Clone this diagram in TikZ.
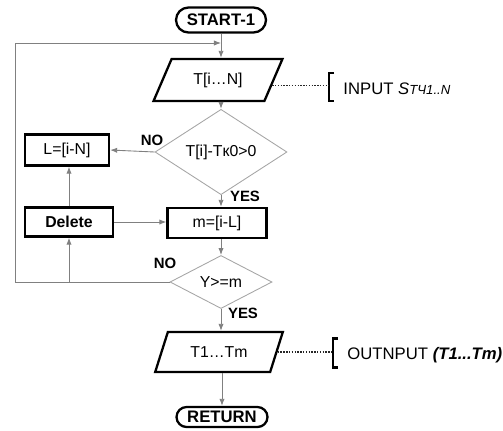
\documentclass[tikz,border=0pt]{standalone}
\usepackage{fontspec}
\setmainfont{Liberation Sans}
\usetikzlibrary{shapes.geometric,shapes.misc,arrows.meta}
\begin{document}
\begin{tikzpicture}[x=.02cm,y=-.02cm,line width=.5pt,
   term/.style={draw,shape=rounded rectangle,line width=1.3pt,inner sep=0pt,font=\fontsize{9.5}{11}\selectfont\bfseries},
   io/.style={draw,shape=trapezium,trapezium left angle=57,trapezium right angle=123,trapezium stretches=true,line width=1.3pt,inner sep=0pt,font=\fontsize{9}{11}\selectfont},
   proc/.style={draw,shape=rectangle,line width=1.3pt,inner sep=0pt,font=\fontsize{9}{11}\selectfont},
   dec/.style={draw=gray!70,shape=diamond,inner sep=0pt,font=\fontsize{9}{11}\selectfont},
   lbl/.style={font=\fontsize{8.5}{10}\selectfont\bfseries},
   note/.style={anchor=west,inner sep=0pt,font=\fontsize{9.5}{11}\selectfont},
   arr/.style={draw=gray,-{Latex[length=4pt,width=3pt]}},
   dots/.style={draw=black!85,dash pattern=on .8pt off .8pt,line width=.9pt},
   brk/.style={line width=1.7pt}]

      \useasboundingbox (0,0) rectangle (503,430);

      \path (221,20) node[term,minimum width=1.8cm,minimum height=.5cm] (start) {START-1};
      \path (218,80) node[io,minimum width=2.58cm,minimum height=.84cm] (inp) {T[i…N]};
      \path (221,152) node[dec,minimum width=2.64cm,minimum height=1.28cm] (test) {T[i]-Tк0>0};
      \path (67,150) node[proc,minimum width=1.68cm,minimum height=.62cm] (setl) {L=[i-N]};
      \path (69,222) node[proc,minimum width=1.76cm,minimum height=.58cm,font=\fontsize{9}{11}\selectfont\bfseries] (del) {Delete};
      \path (217,223) node[proc,minimum width=1.98cm,minimum height=.6cm] (setm) {m=[i-L]};
      \path (221,282) node[dec,minimum width=2.04cm,minimum height=.92cm] (cmp) {Y>=m};
      \path (219,352) node[io,minimum width=2.56cm,minimum height=.8cm] (outp) {T1…Tm};
      \path (222,417) node[term,minimum width=1.82cm,minimum height=.4cm] (ret) {RETURN};

      % branch labels
      \path (152,140) node[lbl] (no1) {NO};
      \path (245,196) node[lbl] (yes1) {YES};
      \path (165,263) node[lbl] (no2) {NO};
      \path (243,313) node[lbl] (yes2) {YES};

      % notes
      \coordinate (brk1) at (329,86);
      \coordinate (brk2) at (333,352);
      \draw[brk] (334,73) -- (329,73) -- (329,101) -- (334,101);
      \draw[brk] (338,338) -- (333,338) -- (333,367) -- (338,367);
      \path (343,89) node[note] (intxt) {INPUT \textit{S{\fontsize{7.5}{8}\selectfont TЧ1..N}}};
      \path (347,355) node[note] (outtxt) {OUTNPUT \textbf{\textit{(T1...Tm)}}};
      \draw[dots] (inp.-6) -- (inp.-6 -| brk1);
      \draw[dots] (outp.east) -- (outp.east -| brk2);

      % main flow
      \draw[arr] (start.south) -- (start.south |- inp.north);
      \draw[arr] (test.north |- inp.south) -- (test.north);
      \draw[arr] (test.west) -- (setl.east);
      \draw[arr] (test.south) -- (test.south |- setm.north);
      \draw[arr] (cmp.north |- setm.south) -- (cmp.north);
      \draw[arr] (cmp.south) -- (cmp.south |- outp.north);
      \draw[arr] (ret.north |- outp.south) -- (ret.north);
      \draw[arr] (del.east) -- (del.east -| setm.west);
      \draw[arr] (del.north) -- (del.north |- setl.south);

      % loop back
      \coordinate (c1) at (15,282);
      \coordinate (c2) at (15,43);
      \draw[arr] (cmp.west) -- (c1) -- (c2) -- (c2 -| start.south);
      \draw[arr] (del.south |- c1) -- (del.south);

   \end{tikzpicture}
\end{document}
